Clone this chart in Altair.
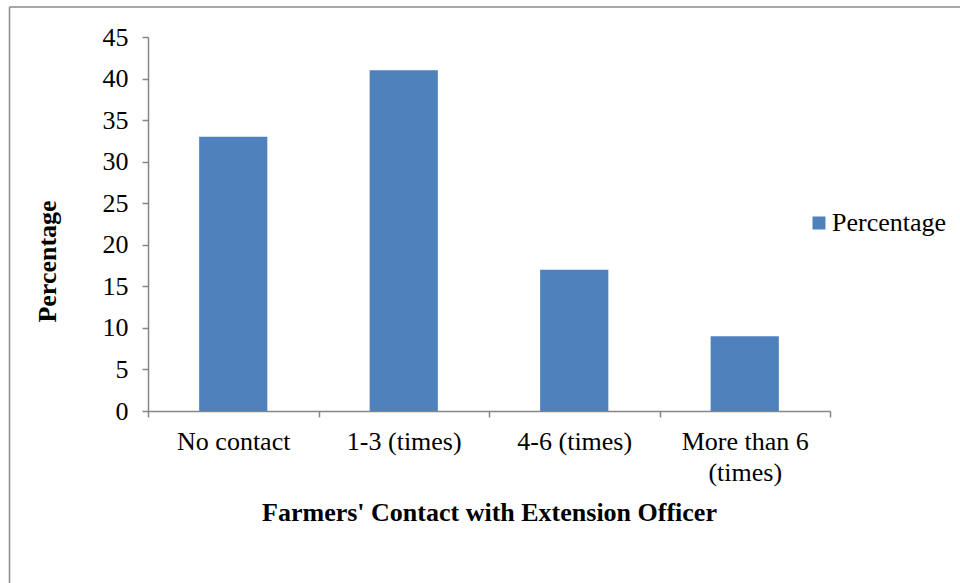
import altair as alt
import pandas as pd

categories = ["No contact", "1-3 (times)", "4-6 (times)", "More than 6 (times)"]
values = [33, 41, 17, 9]
series = ["Percentage"] * len(categories)

df = pd.DataFrame({"cat": categories, "val": values, "series": series})

FONT = "Liberation Serif"
GRAY = "#868686"

bars = alt.Chart(df).mark_bar(width=alt.RelativeBandSize(0.4)).encode(
    x=alt.X(
        "cat:N",
        sort=categories,
        scale=alt.Scale(paddingInner=0, paddingOuter=0),
        axis=alt.Axis(
            title="Farmers' Contact with Extension Officer",
            titleFont=FONT, titleFontSize=26, titleFontWeight="bold", titleColor="black",
            titlePadding=14,
            labelFont=FONT, labelFontSize=26, labelColor="black", labelAngle=0,
            labelPadding=11, labelLineHeight=31,
            labelExpr="datum.label == 'More than 6 (times)' ? ['More than 6', '(times)'] : datum.label",
            tickBand="extent", tickSize=6, tickColor=GRAY, domainColor=GRAY,
            tickWidth=1.5, domainWidth=1.5,
        ),
    ),
    y=alt.Y(
        "val:Q",
        scale=alt.Scale(domain=[0, 45], nice=False),
        axis=alt.Axis(
            title="Percentage",
            titleFont=FONT, titleFontSize=26, titleFontWeight="bold", titleColor="black",
            titleX=-101, titleY=224, titleAlign="center", titleBaseline="middle",
            values=list(range(0, 50, 5)),
            labelFont=FONT, labelFontSize=26, labelColor="black", labelPadding=14,
            tickSize=6, tickColor=GRAY, domainColor=GRAY, tickWidth=1.5, domainWidth=1.5,
            grid=False,
        ),
    ),
    color=alt.Color(
        "series:N",
        scale=alt.Scale(range=["#4F81BD"]),
        legend=alt.Legend(
            title=None, orient="none", legendX=658, legendY=173,
            symbolType="square", symbolSize=169, symbolStrokeWidth=0,
            labelFont=FONT, labelFontSize=26, labelColor="black",
            padding=0, labelOffset=0,
        ),
    ),
)

frame_df = pd.DataFrame({"a": [0]})
top_border = alt.Chart(frame_df).mark_rule(color="#8a8a8a", strokeWidth=1.5).encode(
    x=alt.value(-138.5), x2=alt.value(830), y=alt.value(-30)
)
left_border = alt.Chart(frame_df).mark_rule(color="#8a8a8a", strokeWidth=1.5).encode(
    x=alt.value(-138.5), y=alt.value(-30), y2=alt.value(560)
)

chart = alt.layer(bars, top_border, left_border).properties(
    width=682, height=374,
    padding={"left": 148, "top": 37, "right": 130, "bottom": 172},
    autosize=alt.AutoSizeParams(type="none"),
    background="white",
).configure_view(stroke=None)

chart.save("out.html", embed_options={"renderer": "svg", "actions": False})
